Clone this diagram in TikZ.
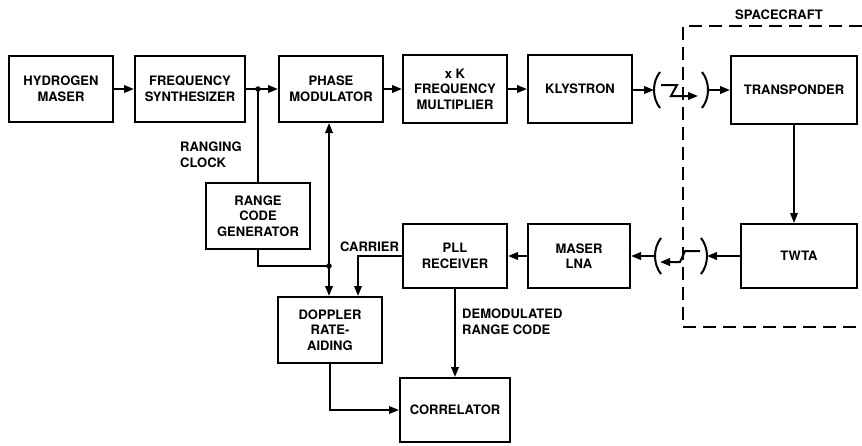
\documentclass[tikz,border=0pt]{standalone}
\usepackage{fontspec}
\setmainfont{TeX Gyre Heros}
\usetikzlibrary{arrows.meta,calc}
\begin{document}
\begin{tikzpicture}[x=1pt,y=-1pt,
 blk/.style={draw,line width=2pt,inner sep=1pt,align=center,font=\bfseries\fontsize{13}{15.5}\selectfont},
 lbl/.style={inner sep=0pt,align=left,font=\bfseries\fontsize{13}{16}\selectfont},
 ln/.style={line width=2pt},
 arr/.style={ln,-{Triangle[length=10pt,width=7.5pt]}},
 dot/.style={circle,fill,inner sep=0pt,minimum size=5.5pt},
 scbox/.style={line width=2pt,dash pattern=on 13pt off 7pt}]
\useasboundingbox (0,0) rectangle (862,445);

% blocks
\node[blk,minimum width=104pt,minimum height=66pt] (hm)  at (61,89)    {HYDROGEN\\MASER};
\node[blk,minimum width=110pt,minimum height=66pt] (fs)  at (190,89)   {FREQUENCY\\SYNTHESIZER};
\node[blk,minimum width=104pt,minimum height=66pt] (pm)  at (331,89)   {PHASE\\MODULATOR};
\node[blk,minimum width=104pt,minimum height=68pt] (xk)  at (455,89)   {x K\\FREQUENCY\\MULTIPLIER};
\node[blk,minimum width=104pt,minimum height=68pt] (kly) at (580,89)   {KLYSTRON};
\node[blk,minimum width=126pt,minimum height=68pt] (tr)  at (794,90)   {TRANSPONDER};
\node[blk,minimum width=116pt,minimum height=64pt] (twta) at (799,256) {TWTA};
\node[blk,minimum width=102pt,minimum height=64pt] (lna) at (579,256)  {MASER\\LNA};
\node[blk,minimum width=104pt,minimum height=64pt] (pll) at (455,256)  {PLL\\RECEIVER};
\node[blk,minimum width=104pt,minimum height=66pt] (rcg) at (258,216)  {RANGE\\CODE\\GENERATOR};
\node[blk,minimum width=104pt,minimum height=66pt] (dop) at (330,330)  {DOPPLER\\RATE-\\AIDING};
\node[blk,minimum width=110pt,minimum height=64pt] (cor) at (455,410)  {CORRELATOR};

% spacecraft boundary
\draw[scbox] (862,26) -- (683,26) -- (683,327) -- (862,327);
\node[lbl,anchor=west] (sc) at (735,15) {SPACECRAFT};

% labels
\node[lbl,anchor=north west] (rclk) at (180,142) {RANGING\\CLOCK};
\node[lbl,anchor=west] (car) at (340,247) {CARRIER};
\node[lbl,anchor=north west] (dem) at (462,309) {DEMODULATED\\RANGE CODE};

% link coordinates
\coordinate (uL) at (654,90);
\coordinate (uR) at (708,90);
\coordinate (lL) at (655,256);
\coordinate (lR) at (707,256);
\coordinate (j1) at (258,89);
\coordinate (j2) at (329,266);
\coordinate (cx) at (358,0);

% top chain
\draw[arr] (hm) -- (fs);
\draw[arr] (fs) -- (pm);
\node[dot] (d1) at (j1) {};
\draw[ln] (j1) -- (j1 |- rcg.north);
\draw[arr] (pm) -- (xk);
\draw[arr] (xk) -- (kly);
\draw[arr] (kly.east |- uL) -- (uL);
\draw[arr] (uR) -- (uR -| tr.west);

% uplink symbol
\draw[ln] ($(uL)+(6,-18)$) .. controls ($(uL)+(-2,-8)$) and ($(uL)+(-2,8)$) .. ($(uL)+(6,18)$);
\draw[ln] ($(uR)+(-6,-18)$) .. controls ($(uR)+(2,-8)$) and ($(uR)+(2,8)$) .. ($(uR)+(-6,18)$);
\draw[ln,-{Triangle[length=10pt,width=7.5pt]}] (661,85) -- (677,85) -- (671,96) -- (698,96);

% spacecraft path
\draw[arr] (tr.south) -- (tr.south |- twta.north);
\draw[arr] (twta.west |- lR) -- (lR);

% downlink symbol
\draw[ln] ($(lL)+(6,-18)$) .. controls ($(lL)+(-2,-8)$) and ($(lL)+(-2,8)$) .. ($(lL)+(6,18)$);
\draw[ln] ($(lR)+(-6,-18)$) .. controls ($(lR)+(2,-8)$) and ($(lR)+(2,8)$) .. ($(lR)+(-6,18)$);
\draw[ln,-{Triangle[length=10pt,width=7.5pt]}] (700,251) -- (685,251) -- (680,262) -- (660,262);

\draw[arr] (lL) -- (lL -| lna.east);
\draw[arr] (lna) -- (pll);

% receiver side
\draw[arr] (pll.west) -| (cx |- dop.north);
\node[dot] (d2) at (j2) {};
\draw[ln] (rcg.south) |- (j2);
\draw[arr] (j2) -- (j2 |- pm.south);
\draw[arr] (j2) -- (j2 |- dop.north);
\draw[arr] (dop.south) |- (cor.west);
\draw[arr] (pll.south) -- (pll.south |- cor.north);
\end{tikzpicture}
\end{document}
